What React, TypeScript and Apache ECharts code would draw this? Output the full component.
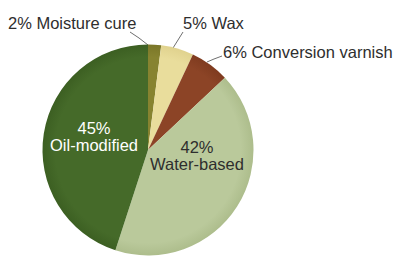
import React, { useEffect, useRef } from "react";
import * as echarts from "echarts";

const categories = ["Moisture cure", "Wax", "Conversion varnish", "Water-based", "Oil-modified"];
const shares = [2, 5, 6, 42, 45];
const colors = ["#878330", "#e9dd9c", "#8c4426", "#bac99b", "#456a29"];
const darkEdges = ["#7a7628", "#e0d28e", "#7f3b1f", "#adbd8c", "#3c5f22"];

const CX = 148;
const CY = 150;
const R = 105.5;

export default function App() {
  const ref = useRef<HTMLDivElement>(null);
  useEffect(() => {
    if (!ref.current) return;
    const chart = echarts.init(ref.current, undefined, { renderer: "svg" });
    const data = categories.map((name, i) => ({
      name,
      value: shares[i],
      itemStyle: {
        color: {
          type: "radial",
          x: CX,
          y: CY,
          r: R,
          global: true,
          colorStops: [
            { offset: 0, color: colors[i] },
            { offset: 0.88, color: colors[i] },
            { offset: 1, color: darkEdges[i] },
          ],
        },
      },
      label:
        i >= 3
          ? {
              position: "inner",
              formatter: "{c}%\n{b}",
              color: i === 4 ? "#ffffff" : "#2e2e2e",
              lineHeight: 17,
              align: "center",
            }
          : {
              position: "outside",
              formatter: "{c}% {b}",
              color: "#2e2e2e",
            },
      labelLine: { show: i < 3 },
    }));

    const layouts: Record<number, any> = {
      0: { x: 8, y: 23, align: "left", verticalAlign: "middle", labelLinePoints: [[148, 45], [139, 38], [130, 32]] },
      1: { x: 183, y: 23, align: "left", verticalAlign: "middle", labelLinePoints: [[173, 48], [178, 40], [183, 32]] },
      2: { x: 223, y: 52, align: "left", verticalAlign: "middle", labelLinePoints: [[207, 62], [214, 59], [222, 56]] },
      3: { x: 197, y: 155, align: "center", verticalAlign: "middle" },
      4: { x: 94, y: 136, align: "center", verticalAlign: "middle" },
    };

    chart.setOption({
      animation: false,
      backgroundColor: "#ffffff",
      series: [
        {
          type: "pie",
          center: [CX, CY],
          radius: [0, R],
          startAngle: 90,
          clockwise: true,
          avoidLabelOverlap: false,
          silent: true,
          data,
          label: {
            fontFamily: "Liberation Sans, Arial, sans-serif",
            fontSize: 16.5,
          },
          labelLine: {
            lineStyle: { color: "#6f6f6f", width: 1 },
            length: 10,
            length2: 10,
          },
          labelLayout: (params: any) => layouts[params.dataIndex],
          itemStyle: { borderWidth: 0 },
        },
      ],
    });
    return () => chart.dispose();
  }, []);
  return (
    <div
      ref={ref}
      style={{ position: "fixed", left: 0, top: 0, width: 400, height: 268 }}
    />
  );
}
